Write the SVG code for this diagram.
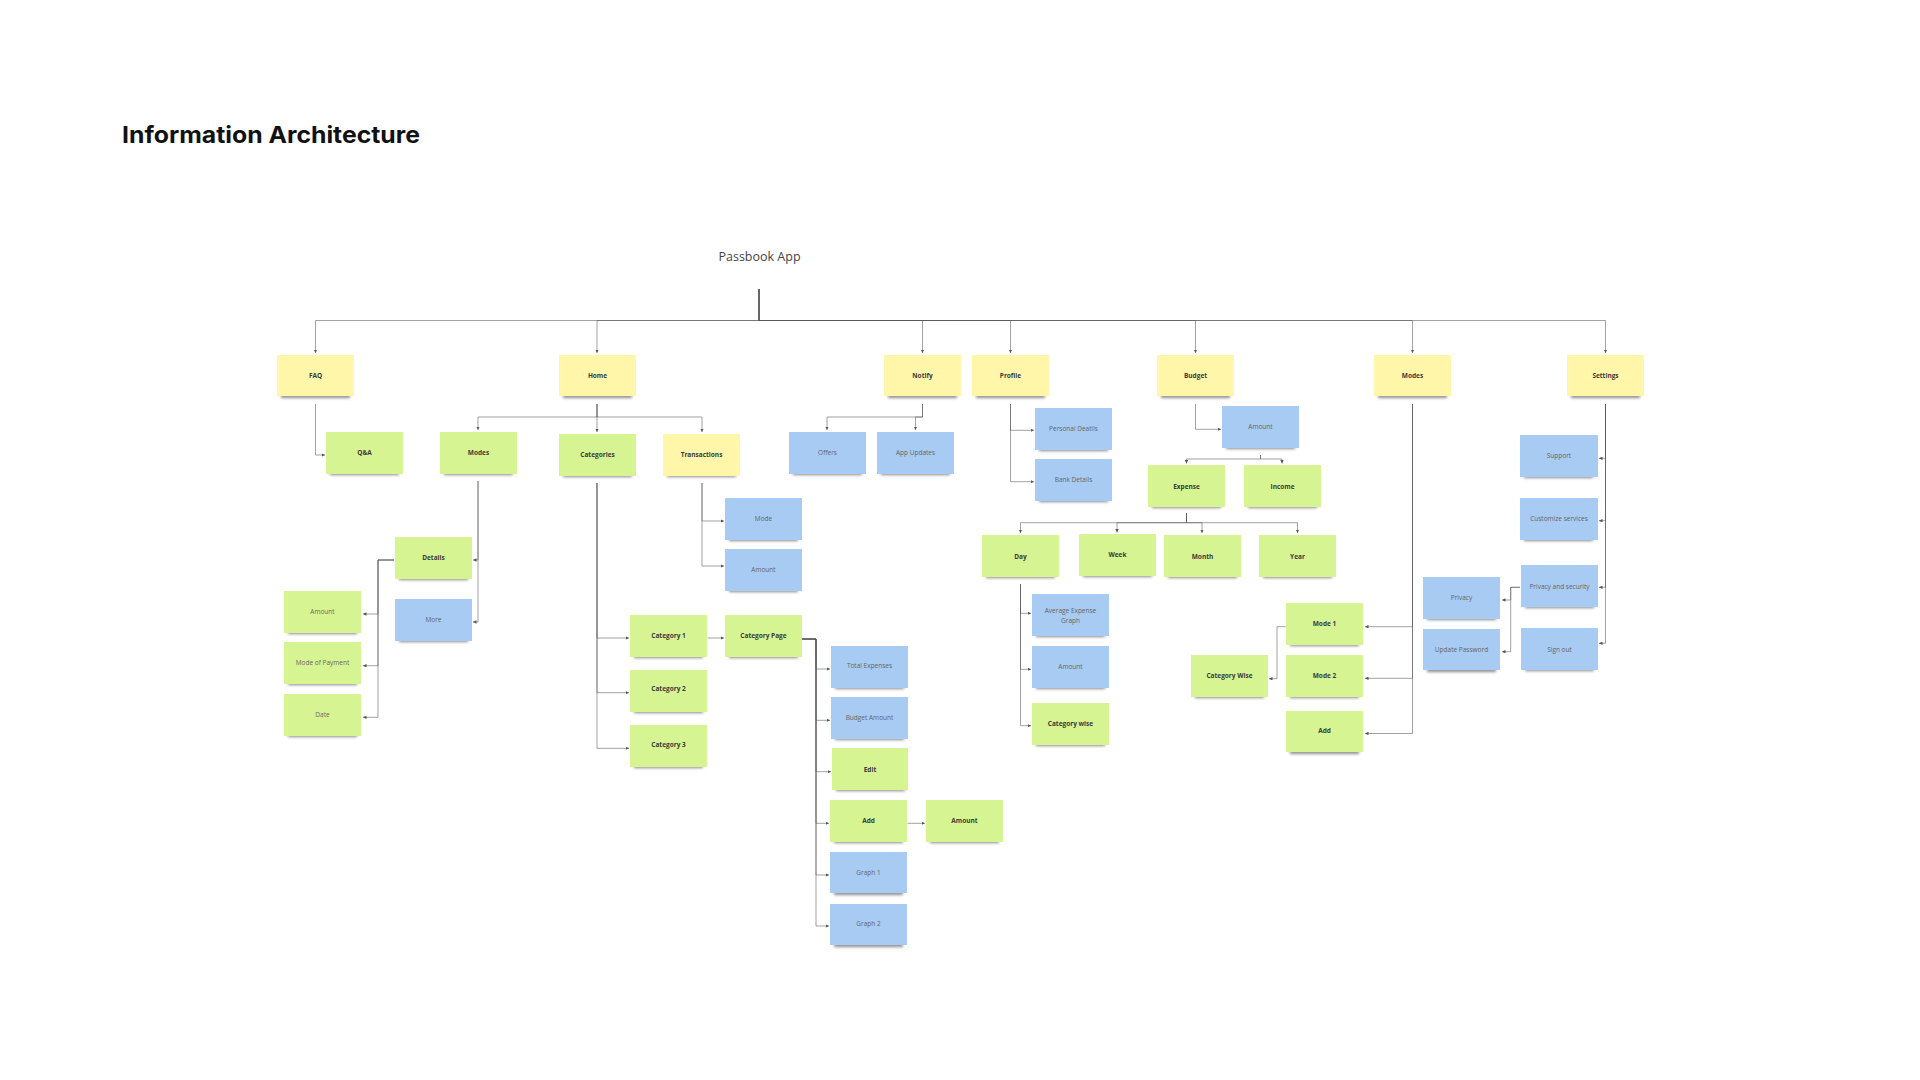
<svg xmlns="http://www.w3.org/2000/svg" width="1920" height="1080" viewBox="0 0 1920 1080">
<defs>
<filter id="blur" x="-20%" y="-200%" width="140%" height="500%"><feGaussianBlur stdDeviation="1.4"/></filter>
<marker id="ah" viewBox="0 0 6 6" refX="6" refY="3" markerWidth="3.5" markerHeight="3.5" markerUnits="userSpaceOnUse" orient="auto"><path d="M0,0 L6,3 L0,6 z" fill="#555"/></marker>
</defs>
<style>
.sh{fill:#000;opacity:.45;filter:url(#blur)}
.y{fill:#fff6a9}
.g{fill:#d6f592}
.b{fill:#a7cbf3}
.t{font-family:"Open Sans","Liberation Sans",sans-serif;font-size:6.5px;text-anchor:middle}
.bd{font-weight:700;fill:#3a3a3a}
.nm{fill:#666}
.c path{fill:none;stroke:#555;stroke-opacity:.55;stroke-width:1;marker-end:url(#ah)}
</style>
<rect width="1920" height="1080" fill="#fff"/>
<text x="122" y="143" font-family="Inter,Roboto,'Liberation Sans',sans-serif" font-size="23" font-weight="700" fill="#111" textLength="298" lengthAdjust="spacingAndGlyphs">Information Architecture</text>
<g id="root"><text x="759.5" y="261" font-family="'Open Sans','Liberation Sans',sans-serif" font-size="12.5" fill="#444" text-anchor="middle">Passbook App</text></g>

<g id="connectors" class="c">
<path d="M759,289 V320.5 H315.5 V353"/>
<path d="M759,289 V320.5 H597 V353"/>
<path d="M759,289 V320.5 H922.5 V353"/>
<path d="M759,289 V320.5 H1010.5 V353"/>
<path d="M759,289 V320.5 H1195.5 V353"/>
<path d="M759,289 V320.5 H1412.5 V353"/>
<path d="M759,289 V320.5 H1605.5 V353"/>
<path d="M315.5,404 V455 H325"/>
<path d="M597,404 V417 H478 V430"/>
<path d="M597,404 V432"/>
<path d="M597,404 V417 H702 V432"/>
<path d="M478,481 V560 H473"/>
<path d="M478,481 V622 H473"/>
<path d="M394,560 H378 V614 H363"/>
<path d="M394,560 H378 V665.7 H363"/>
<path d="M394,560 H378 V717.3 H363"/>
<path d="M597,483 V638 H629"/>
<path d="M597,483 V692.7 H629"/>
<path d="M597,483 V748.3 H629"/>
<path d="M707.5,638 H724"/>
<path d="M702,483 V521 H724"/>
<path d="M702,483 V566 H724"/>
<path d="M802,639 H816 V669 H830"/>
<path d="M802,639 H816 V720.3 H830"/>
<path d="M802,639 H816 V771.7 H831"/>
<path d="M802,639 H816 V823.3 H829"/>
<path d="M802,639 H816 V875 H829"/>
<path d="M802,639 H816 V926 H829"/>
<path d="M907.5,823.3 H925"/>
<path d="M922.5,404 V417 H827 V430"/>
<path d="M922.5,404 V417 H915.5 V430"/>
<path d="M1010.5,404 V430.3 H1034"/>
<path d="M1010.5,404 V481.7 H1034"/>
<path d="M1195.5,404 V429.3 H1221"/>
<path d="M1260.5,455 V459 H1186.5 V463.5"/>
<path d="M1260.5,455 V459 H1282 V463.5"/>
<path d="M1186.5,513 V522.7 H1020.5 V533"/>
<path d="M1186.5,513 V522.7 H1117 V532.5"/>
<path d="M1186.5,513 V522.7 H1202 V533"/>
<path d="M1186.5,513 V522.7 H1297.5 V533"/>
<path d="M1020.5,584 V613.3 H1031"/>
<path d="M1020.5,584 V669.3 H1031"/>
<path d="M1020.5,584 V725.7 H1031"/>
<path d="M1412.5,404 V626.7 H1365"/>
<path d="M1412.5,404 V678.3 H1365"/>
<path d="M1412.5,404 V733.5 H1365"/>
<path d="M1285.7,626.7 H1277 V678.7 H1269"/>
<path d="M1605.5,404 V458.3 H1599"/>
<path d="M1605.5,404 V520.7 H1599"/>
<path d="M1605.5,404 V587.3 H1599"/>
<path d="M1605.5,404 V643.3 H1599"/>
<path d="M1520,587.3 H1510.7 V600 H1502"/>
<path d="M1520,587.3 H1510.7 V651.7 H1502"/>
</g>

<g id="n-faq" transform="translate(277,355)"><rect class="sh" x="4" y="39" width="69" height="4"/><rect class="y" width="77" height="41"/><text class="t bd" x="38.5" y="23">FAQ</text></g>
<g id="n-home" transform="translate(559,355)"><rect class="sh" x="4" y="39" width="69" height="4"/><rect class="y" width="77" height="41"/><text class="t bd" x="38.5" y="23">Home</text></g>
<g id="n-notify" transform="translate(884,355)"><rect class="sh" x="4" y="39" width="69" height="4"/><rect class="y" width="77" height="41"/><text class="t bd" x="38.5" y="23">Notify</text></g>
<g id="n-profile" transform="translate(972,355)"><rect class="sh" x="4" y="39" width="69" height="4"/><rect class="y" width="77" height="41"/><text class="t bd" x="38.5" y="23">Profile</text></g>
<g id="n-budget" transform="translate(1157,355)"><rect class="sh" x="4" y="39" width="69" height="4"/><rect class="y" width="77" height="41"/><text class="t bd" x="38.5" y="23">Budget</text></g>
<g id="n-modes" transform="translate(1374,355)"><rect class="sh" x="4" y="39" width="69" height="4"/><rect class="y" width="77" height="41"/><text class="t bd" x="38.5" y="23">Modes</text></g>
<g id="n-settings" transform="translate(1567,355)"><rect class="sh" x="4" y="39" width="69" height="4"/><rect class="y" width="77" height="41"/><text class="t bd" x="38.5" y="23">Settings</text></g>

<g id="n-qa" transform="translate(326,432)"><rect class="sh" x="4" y="39" width="69" height="4"/><rect class="g" width="77" height="42"/><text class="t bd" x="38.5" y="22.5">Q&amp;A</text></g>
<g id="n-home-modes" transform="translate(440,432)"><rect class="sh" x="4" y="39" width="69" height="4"/><rect class="g" width="77" height="42"/><text class="t bd" x="38.5" y="22.5">Modes</text></g>
<g id="n-categories" transform="translate(559,434)"><rect class="sh" x="4" y="39" width="69" height="4"/><rect class="g" width="77" height="42"/><text class="t bd" x="38.5" y="23">Categories</text></g>
<g id="n-transactions" transform="translate(663,434)"><rect class="sh" x="4" y="39" width="69" height="4"/><rect class="y" width="77" height="42"/><text class="t bd" x="38.5" y="23">Transactions</text></g>

<g id="n-details" transform="translate(395,537)"><rect class="sh" x="4" y="39" width="69" height="4"/><rect class="g" width="77" height="42"/><text class="t bd" x="38.5" y="22.5">Details</text></g>
<g id="n-more" transform="translate(395,599)"><rect class="sh" x="4" y="39" width="69" height="4"/><rect class="b" width="77" height="42"/><text class="t nm" x="38.5" y="22.5">More</text></g>
<g id="n-d-amount" transform="translate(284,591)"><rect class="sh" x="4" y="39" width="69" height="4"/><rect class="g" width="77" height="42"/><text class="t nm" x="38.5" y="22.5">Amount</text></g>
<g id="n-d-mop" transform="translate(284,642)"><rect class="sh" x="4" y="39" width="69" height="4"/><rect class="g" width="77" height="42"/><text class="t nm" x="38.5" y="22.5">Mode of Payment</text></g>
<g id="n-d-date" transform="translate(284,694)"><rect class="sh" x="4" y="39" width="69" height="4"/><rect class="g" width="77" height="42"/><text class="t nm" x="38.5" y="22.5">Date</text></g>

<g id="n-cat1" transform="translate(630,615)"><rect class="sh" x="4" y="39" width="69" height="4"/><rect class="g" width="77" height="42"/><text class="t bd" x="38.5" y="23">Category 1</text></g>
<g id="n-cat2" transform="translate(630,670)"><rect class="sh" x="4" y="39" width="69" height="4"/><rect class="g" width="77" height="42"/><text class="t bd" x="38.5" y="21.3">Category 2</text></g>
<g id="n-cat3" transform="translate(630,725)"><rect class="sh" x="4" y="39" width="69" height="4"/><rect class="g" width="77" height="42"/><text class="t bd" x="38.5" y="22.3">Category 3</text></g>
<g id="n-catpage" transform="translate(725,615)"><rect class="sh" x="4" y="39" width="69" height="4"/><rect class="g" width="77" height="42"/><text class="t bd" x="38.5" y="23">Category Page</text></g>

<g id="n-t-mode" transform="translate(725,498)"><rect class="sh" x="4" y="39" width="69" height="4"/><rect class="b" width="77" height="42"/><text class="t nm" x="38.5" y="22.5">Mode</text></g>
<g id="n-t-amount" transform="translate(725,549)"><rect class="sh" x="4" y="39" width="69" height="4"/><rect class="b" width="77" height="42"/><text class="t nm" x="38.5" y="22.5">Amount</text></g>

<g id="n-total" transform="translate(831,646)"><rect class="sh" x="4" y="39" width="69" height="4"/><rect class="b" width="77" height="42"/><text class="t nm" x="38.5" y="21.5">Total Expenses</text></g>
<g id="n-budgetamt" transform="translate(831,697)"><rect class="sh" x="4" y="39" width="69" height="4"/><rect class="b" width="77" height="42"/><text class="t nm" x="38.5" y="22.5">Budget Amount</text></g>
<g id="n-edit" transform="translate(832,748)"><rect class="sh" x="4" y="39" width="69" height="4"/><rect class="g" width="76" height="42"/><text class="t bd" x="38" y="23.5">Edit</text></g>
<g id="n-add" transform="translate(830,800)"><rect class="sh" x="4" y="39" width="69" height="4"/><rect class="g" width="77" height="42"/><text class="t bd" x="38.5" y="22.5">Add</text></g>
<g id="n-add-amount" transform="translate(926,800)"><rect class="sh" x="4" y="39" width="69" height="4"/><rect class="g" width="77" height="42"/><text class="t bd" x="38.5" y="22.5">Amount</text></g>
<g id="n-graph1" transform="translate(830,852)"><rect class="sh" x="4" y="39" width="69" height="4"/><rect class="b" width="77" height="41"/><text class="t nm" x="38.5" y="22.5">Graph 1</text></g>
<g id="n-graph2" transform="translate(830,904)"><rect class="sh" x="4" y="39" width="69" height="4"/><rect class="b" width="77" height="41"/><text class="t nm" x="38.5" y="22">Graph 2</text></g>

<g id="n-offers" transform="translate(789,432)"><rect class="sh" x="4" y="39" width="69" height="4"/><rect class="b" width="77" height="42"/><text class="t nm" x="38.5" y="23">Offers</text></g>
<g id="n-appupdates" transform="translate(877,432)"><rect class="sh" x="4" y="39" width="69" height="4"/><rect class="b" width="77" height="42"/><text class="t nm" x="38.5" y="23">App Updates</text></g>
<g id="n-personal" transform="translate(1035,408)"><rect class="sh" x="4" y="39" width="69" height="4"/><rect class="b" width="77" height="42"/><text class="t nm" x="38.5" y="22.5">Personal Deatils</text></g>
<g id="n-bank" transform="translate(1035,459)"><rect class="sh" x="4" y="39" width="69" height="4"/><rect class="b" width="77" height="42"/><text class="t nm" x="38.5" y="23">Bank Details</text></g>
<g id="n-b-amount" transform="translate(1222,406)"><rect class="sh" x="4" y="39" width="69" height="4"/><rect class="b" width="77" height="42"/><text class="t nm" x="38.5" y="22.5">Amount</text></g>
<g id="n-expense" transform="translate(1148,465)"><rect class="sh" x="4" y="39" width="69" height="4"/><rect class="g" width="77" height="42"/><text class="t bd" x="38.5" y="23.5">Expense</text></g>
<g id="n-income" transform="translate(1244,465)"><rect class="sh" x="4" y="39" width="69" height="4"/><rect class="g" width="77" height="42"/><text class="t bd" x="38.5" y="23.5">Income</text></g>
<g id="n-day" transform="translate(982,535)"><rect class="sh" x="4" y="39" width="69" height="4"/><rect class="g" width="77" height="42"/><text class="t bd" x="38.5" y="23.5">Day</text></g>
<g id="n-week" transform="translate(1079,534)"><rect class="sh" x="4" y="39" width="69" height="4"/><rect class="g" width="77" height="42"/><text class="t bd" x="38.5" y="22.5">Week</text></g>
<g id="n-month" transform="translate(1164,535)"><rect class="sh" x="4" y="39" width="69" height="4"/><rect class="g" width="77" height="42"/><text class="t bd" x="38.5" y="23.5">Month</text></g>
<g id="n-year" transform="translate(1259,535)"><rect class="sh" x="4" y="39" width="69" height="4"/><rect class="g" width="77" height="42"/><text class="t bd" x="38.5" y="23.5">Year</text></g>
<g id="n-avg" transform="translate(1032,594)"><rect class="sh" x="4" y="39" width="69" height="4"/><rect class="b" width="77" height="42"/><text class="t nm" x="38.5" y="19">Average Expense</text><text class="t nm" x="38.5" y="28.5">Graph</text></g>
<g id="n-day-amount" transform="translate(1032,646)"><rect class="sh" x="4" y="39" width="69" height="4"/><rect class="b" width="77" height="42"/><text class="t nm" x="38.5" y="22.5">Amount</text></g>
<g id="n-catwise" transform="translate(1032,703)"><rect class="sh" x="4" y="39" width="69" height="4"/><rect class="g" width="77" height="42"/><text class="t bd" x="38.5" y="22.5">Category wise</text></g>

<g id="n-mode1" transform="translate(1286,603)"><rect class="sh" x="4" y="39" width="69" height="4"/><rect class="g" width="77" height="42"/><text class="t bd" x="38.5" y="22.5">Mode 1</text></g>
<g id="n-mode2" transform="translate(1286,655)"><rect class="sh" x="4" y="39" width="69" height="4"/><rect class="g" width="77" height="42"/><text class="t bd" x="38.5" y="23">Mode 2</text></g>
<g id="n-m-add" transform="translate(1286,711)"><rect class="sh" x="4" y="39" width="69" height="4"/><rect class="g" width="77" height="41"/><text class="t bd" x="38.5" y="21.5">Add</text></g>
<g id="n-catwise2" transform="translate(1191,655)"><rect class="sh" x="4" y="39" width="69" height="4"/><rect class="g" width="77" height="42"/><text class="t bd" x="38.5" y="23">Category Wise</text></g>

<g id="n-support" transform="translate(1520,435)"><rect class="sh" x="4" y="39" width="69" height="4"/><rect class="b" width="78" height="42"/><text class="t nm" x="39" y="23">Support</text></g>
<g id="n-customize" transform="translate(1520,498)"><rect class="sh" x="4" y="39" width="69" height="4"/><rect class="b" width="78" height="42"/><text class="t nm" x="39" y="23">Customize services</text></g>
<g id="n-privsec" transform="translate(1521,565)"><rect class="sh" x="4" y="39" width="69" height="4"/><rect class="b" width="77" height="42"/><text class="t nm" x="38.5" y="23.5">Privacy and security</text></g>
<g id="n-signout" transform="translate(1521,628)"><rect class="sh" x="4" y="39" width="69" height="4"/><rect class="b" width="77" height="42"/><text class="t nm" x="38.5" y="23.5">Sign out</text></g>
<g id="n-privacy" transform="translate(1423,577)"><rect class="sh" x="4" y="39" width="69" height="4"/><rect class="b" width="77" height="42"/><text class="t nm" x="38.5" y="23">Privacy</text></g>
<g id="n-updatepw" transform="translate(1423,629)"><rect class="sh" x="4" y="39" width="69" height="4"/><rect class="b" width="77" height="41"/><text class="t nm" x="38.5" y="23">Update Password</text></g>
</svg>
